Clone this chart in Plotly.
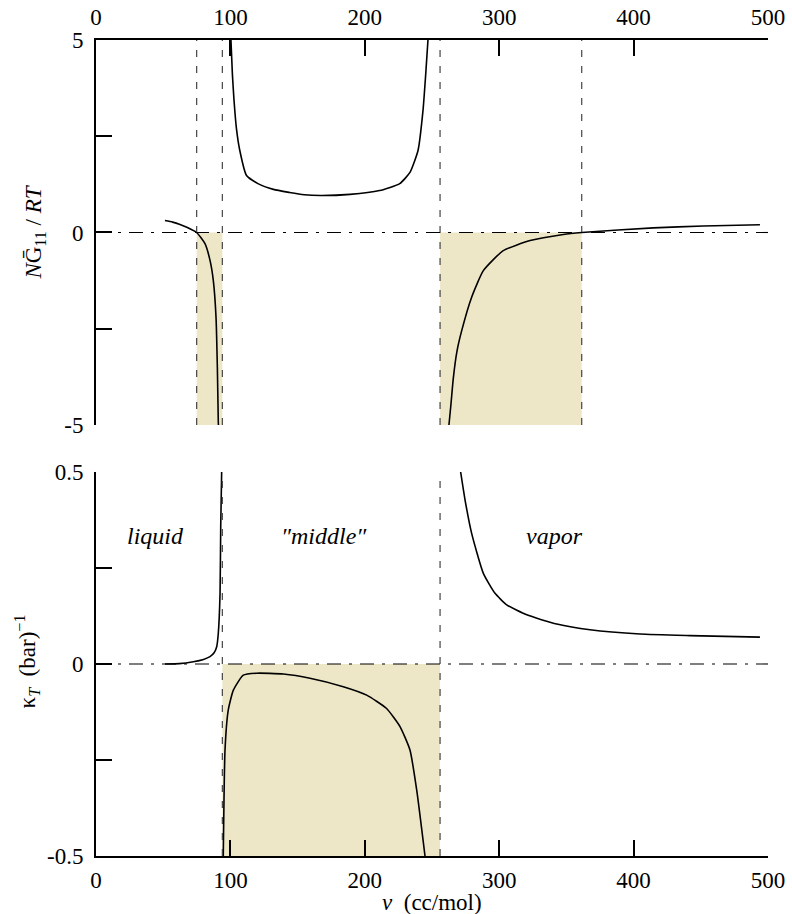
import plotly.graph_objects as go

# ---------------- data ----------------
# top panel: N*G11/RT vs v
liq_v_top = [51.3, 57, 62.5, 68, 74.9, 81.1, 85, 87.3, 89.3, 90.3, 91.0, 91.1]
liq_G = [0.31, 0.27, 0.21, 0.13, 0.0, -0.29, -0.75, -1.25, -2.2, -3.5, -4.93, -5.0]

mid_v_top = [100.4, 101.5, 102.7, 104.5, 107, 112, 120.5, 132, 144, 155, 167, 189, 211, 226, 233.6, 239.6, 243.3, 245.5, 247]
mid_G = [5.0, 4.1, 3.43, 2.7, 2.13, 1.48, 1.27, 1.12, 1.04, 0.98, 0.96, 0.99, 1.09, 1.27, 1.56, 2.13, 3.17, 4.2, 5.0]

vap_v_top = [262.6, 264.0, 265.8, 268.5, 272.1, 279.5, 288.2, 303, 323, 347.7, 361.4, 414.7, 451.9, 494]
vap_G = [-5.0, -4.5, -3.8, -3.1, -2.55, -1.68, -0.99, -0.47, -0.21, -0.05, 0.0, 0.12, 0.17, 0.2]

# bottom panel: kappa_T vs v
liq_v_bot = [51.3, 62, 72.4, 80, 84.8, 88, 89.8, 91, 92.3, 92.8, 93.5]
liq_k = [0.0, 0.001, 0.006, 0.012, 0.019, 0.03, 0.045, 0.08, 0.184, 0.358, 0.5]

mid_v_bot = [94.7, 96, 98.4, 102.2, 109.6, 119.6, 139.4, 159.2, 184, 201.4, 216.2, 226.2, 233.6, 238.6, 244.8]
mid_k = [-0.5, -0.224, -0.12, -0.068, -0.029, -0.024, -0.026, -0.037, -0.059, -0.081, -0.116, -0.163, -0.224, -0.328, -0.5]

vap_v_bot = [271.3, 274.6, 279.5, 288.2, 296.9, 305.6, 320.5, 342.8, 367.6, 404.8, 442, 494]
vap_k = [0.5, 0.427, 0.34, 0.236, 0.184, 0.154, 0.128, 0.104, 0.089, 0.078, 0.074, 0.07]

# region boundaries (dashed lines) and shaded unstable regions
top_bounds = [74.9, 94.0, 256.0, 361.4]
bot_bounds = [94.0, 256.0]
top_shade = [(74.9, 94.0), (256.0, 361.4)]
bot_shade = [(94.0, 256.0)]

x_ticks = [0, 100, 200, 300, 400, 500]
y1_ticks = [-5, -2.5, 0, 2.5, 5]
y1_labels = ["-5", "", "0", "", "5"]
y2_ticks = [-0.5, -0.25, 0, 0.25, 0.5]
y2_labels = ["-0.5", "", "0", "", "0.5"]

region_labels = ["<i>liquid</i>", "<i>\u2033middle\u2033</i>", "<i>vapor</i>"]
region_label_x = [44, 170, 341]
region_label_y = 0.333

FONT = "Liberation Serif, DejaVu Serif, serif"
SHADE = "#EEE7C7"

fig = go.Figure()
line_style = dict(color="black", width=1.6, shape="spline", smoothing=0.5)
for xs, ys in [(liq_v_top, liq_G), (mid_v_top, mid_G), (vap_v_top, vap_G)]:
    fig.add_trace(go.Scatter(x=xs, y=ys, mode="lines", line=line_style,
                             xaxis="x", yaxis="y", showlegend=False, cliponaxis=True))
for xs, ys in [(liq_v_bot, liq_k), (mid_v_bot, mid_k), (vap_v_bot, vap_k)]:
    fig.add_trace(go.Scatter(x=xs, y=ys, mode="lines", line=line_style,
                             xaxis="x2", yaxis="y2", showlegend=False, cliponaxis=True))

shapes = []
for a, b in top_shade:
    shapes.append(dict(type="rect", xref="x", yref="y", x0=a, x1=b, y0=-5, y1=0,
                       fillcolor=SHADE, line=dict(width=0), layer="below"))
for a, b in bot_shade:
    shapes.append(dict(type="rect", xref="x2", yref="y2", x0=a, x1=b, y0=-0.5, y1=0,
                       fillcolor=SHADE, line=dict(width=0), layer="below"))
for xv in top_bounds:
    shapes.append(dict(type="line", xref="x", yref="y domain", x0=xv, x1=xv, y0=0, y1=1,
                       line=dict(color="#444", width=1.2, dash="7px,9px")))
for xv in bot_bounds:
    shapes.append(dict(type="line", xref="x2", yref="y2 domain", x0=xv, x1=xv, y0=0, y1=1,
                       line=dict(color="#444", width=1.2, dash="7px,9px")))
shapes.append(dict(type="line", xref="x domain", yref="y", x0=0, x1=1, y0=0, y1=0,
                   line=dict(color="black", width=1.1, dash="14px,8px,3px,8px")))
shapes.append(dict(type="line", xref="x2 domain", yref="y2", x0=0, x1=1, y0=0, y1=0,
                   line=dict(color="black", width=1.1, dash="14px,8px,3px,8px")))

axis_common = dict(showgrid=False, zeroline=False, showline=True, linecolor="black",
                   linewidth=2, ticks="inside", ticklen=16, tickwidth=2, tickcolor="black",
                   tickfont=dict(family=FONT, size=23, color="black"), mirror=False,
                   automargin=False)

annotations = []
for txt, xv in zip(region_labels, region_label_x):
    annotations.append(dict(text=txt, x=xv, y=region_label_y, xref="x2", yref="y2",
                            xanchor="center", yanchor="middle",
                            showarrow=False, font=dict(family=FONT, size=24, color="black")))
annotations.append(dict(text="<i>N</i>\u1E20<sub>11</sub> / <i>RT</i>", xref="paper", yref="paper",
                        x=-0.091, y=0.765, textangle=-90, showarrow=False,
                        xanchor="center", yanchor="middle",
                        font=dict(family=FONT, size=23, color="black")))
annotations.append(dict(text="\u03BA<sub><i>T</i></sub>  (bar)<sup>\u22121</sup>", xref="paper", yref="paper",
                        x=-0.102, y=0.239, textangle=-90, showarrow=False,
                        xanchor="center", yanchor="middle",
                        font=dict(family=FONT, size=23, color="black")))
annotations.append(dict(text="<i>v</i>  (cc/mol)", xref="paper", yref="paper",
                        x=0.5, y=-0.057, showarrow=False,
                        xanchor="center", yanchor="middle",
                        font=dict(family=FONT, size=23, color="black")))

fig.update_layout(
    width=792, height=914,
    margin=dict(l=96, r=24, t=40, b=58, autoexpand=False),
    paper_bgcolor="white", plot_bgcolor="white",
    font=dict(family=FONT, color="black"),
    shapes=shapes, annotations=annotations,
    xaxis=dict(axis_common, domain=[0, 1], anchor="y", side="top", range=[0, 500],
               tickvals=x_ticks, ticklabelstandoff=4),
    yaxis=dict(axis_common, domain=[0.5282, 1], anchor="x", range=[-5, 5],
               tickvals=y1_ticks, ticktext=y1_labels, ticklabelstandoff=6),
    xaxis2=dict(axis_common, domain=[0, 1], anchor="y2", side="bottom", range=[0, 500],
                tickvals=x_ticks, ticklabelstandoff=2),
    yaxis2=dict(axis_common, domain=[0, 0.4706], anchor="x2", range=[-0.5, 0.5],
                tickvals=y2_ticks, ticktext=y2_labels, ticklabelstandoff=6),
)

fig.write_html("out.html", config={"displayModeBar": False},
               post_script="document.body.style.margin='0px';")
